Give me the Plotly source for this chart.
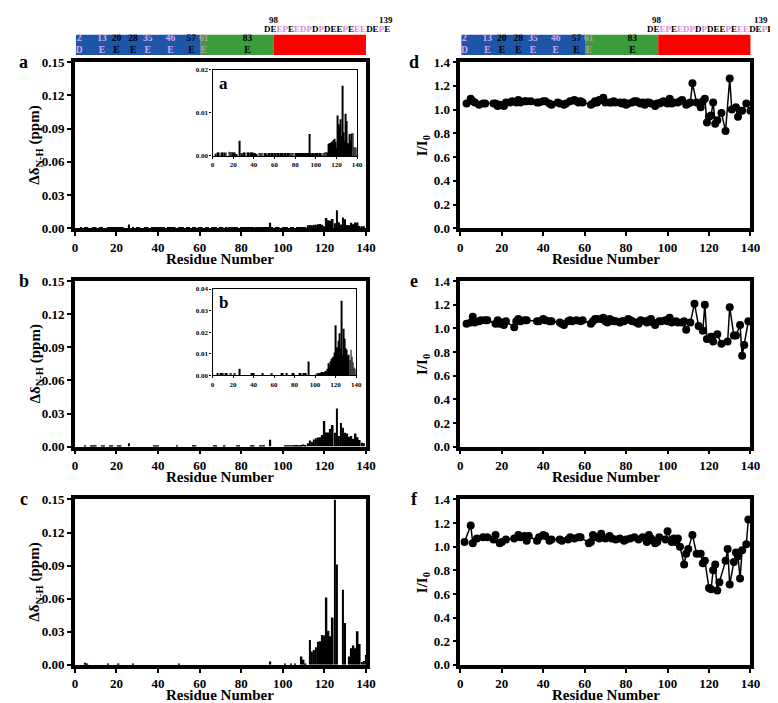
import plotly.graph_objects as go

W, H = 778, 703
FONT = "Liberation Serif"

# ---- data -------------------------------------------------------------
residues = list(range(1, 141))

# chemical shift perturbation, panel a (residues 1..140)
shift_a = [
    0, 0, 0.0005, 0, 0.0008, 0.0008, 0, 0, 0.0008, 0.0008,
    0, 0.0008, 0.0008, 0, 0, 0.001, 0.0009, 0.0009, 0.0008, 0.0008,
    0.0008, 0.0004, 0.0004, 0, 0, 0.0035, 0, 0.0006, 0, 0.0008,
    0.0008, 0, 0, 0.0008, 0.0008, 0, 0.0008, 0.0008, 0.0008, 0.0007,
    0.0007, 0.0005, 0.0004, 0, 0.0007, 0.0007, 0.0007, 0.0007, 0, 0.0007,
    0.0007, 0.0004, 0, 0.0007, 0.0007, 0, 0.0007, 0.0007, 0, 0.0007,
    0.0007, 0, 0.0007, 0.0007, 0, 0.0007, 0.0007, 0.0007, 0, 0.0007,
    0.0007, 0, 0.0007, 0.0007, 0.0007, 0.0007, 0.0007, 0.0007, 0, 0.0007,
    0.0007, 0.0007, 0.0007, 0.0007, 0.0007, 0.0007, 0.0007, 0.0007, 0.0007, 0.0007,
    0.0007, 0.0007, 0.0007, 0.0051, 0.0007, 0.0003, 0.0007, 0.0007, 0.0003, 0.0007,
    0.0007, 0.0007, 0, 0.0007, 0.0007, 0.0003, 0.0007, 0.0007, 0.0009, 0.0009,
    0.0008, 0.0028, 0.003, 0.0029, 0.0033, 0.0033, 0.0037, 0.004, 0.0033, 0.0018,
    0.0094, 0.0074, 0.0069, 0.0085, 0.0047, 0.0163, 0.0055, 0.0035, 0.0098, 0.0081,
    0.003, 0.0028, 0.0051, 0.0036, 0.0052, 0.0053, 0.0021, 0.002, 0.0019, 0,
]

shift_b = [
    0, 0, 0, 0, 0.001, 0, 0, 0.001, 0.001, 0.001,
    0, 0, 0.001, 0.001, 0, 0, 0.001, 0.001, 0, 0,
    0.001, 0.001, 0, 0, 0, 0.003, 0, 0, 0, 0,
    0, 0, 0, 0, 0, 0, 0, 0.001, 0.001, 0.001,
    0, 0, 0, 0, 0, 0, 0, 0, 0.001, 0,
    0, 0, 0, 0, 0, 0, 0.001, 0.001, 0, 0,
    0, 0, 0, 0, 0, 0, 0.001, 0.001, 0, 0,
    0, 0.001, 0, 0, 0, 0, 0, 0.001, 0.001, 0,
    0, 0, 0, 0, 0.001, 0.001, 0, 0, 0.001, 0.001,
    0.001, 0, 0, 0.0063, 0, 0, 0, 0, 0, 0,
    0.0007, 0.001, 0.001, 0.001, 0.001, 0.0015, 0.0015, 0.0012, 0.0015, 0.002,
    0.0015, 0.003, 0.0055, 0.0045, 0.0065, 0.0075, 0.0082, 0.0085, 0.0105, 0.0232,
    0.0128, 0.0128, 0.016, 0.0195, 0.0125, 0.0345, 0.0095, 0.0215, 0.017, 0.0125,
    0.0118, 0.009, 0.0095, 0.007, 0.0118, 0.0085, 0.006, 0.0035, 0.003, 0,
]

shift_c = [
    0, 0, 0, 0, 0.0018, 0.0012, 0, 0, 0, 0,
    0, 0, 0, 0, 0, 0.0005, 0, 0, 0, 0,
    0.0012, 0, 0, 0, 0, 0, 0, 0.0005, 0, 0,
    0, 0, 0, 0, 0, 0, 0, 0, 0, 0,
    0, 0, 0, 0, 0, 0, 0, 0, 0, 0.0005,
    0, 0, 0, 0, 0, 0, 0, 0, 0, 0,
    0, 0, 0, 0, 0, 0, 0, 0, 0, 0,
    0, 0, 0, 0, 0, 0, 0, 0, 0, 0,
    0, 0, 0, 0, 0, 0, 0, 0, 0, 0,
    0, 0, 0, 0.003, 0, 0, 0, 0, 0, 0,
    0.0012, 0, 0, 0.0008, 0, 0.0008, 0, 0, 0.0075, 0.0045,
    0.001, 0, 0.0225, 0.012, 0.0135, 0.016, 0.021, 0.0215, 0.027, 0.0265,
    0.061, 0.031, 0.026, 0.043, 0.15, 0.091, 0, 0, 0.068, 0.038,
    0, 0.0075, 0.015, 0.0175, 0.015, 0.0305, 0.019, 0.0025, 0.0035, 0.009,
]

# intensity ratios I/I0
res_d = [3, 5, 6, 7, 9, 11, 12, 16, 17, 18, 19, 21, 22, 24, 25, 27, 28, 29, 31, 32,
         34, 37, 38, 40, 41, 43, 44, 47, 48, 50, 51, 53, 55, 56, 57, 58, 59, 63, 64, 65,
         66, 67, 68, 69, 70, 72, 73, 74, 75, 77, 78, 79, 80, 81, 83, 84, 85, 86, 87, 88,
         89, 90, 91, 92, 94, 95, 96, 97, 98, 99, 100, 101, 102, 103, 105, 106, 107, 109, 110, 111,
         112, 114, 116, 117, 118, 119, 120, 121, 122, 123, 124, 126, 128, 130, 131, 133, 134, 135, 136, 138,
         140]
ratio_d = [1.05, 1.09, 1.07, 1.06, 1.04, 1.05, 1.05, 1.05, 1.05, 1.03, 1.04, 1.03, 1.06, 1.06, 1.07, 1.06, 1.08, 1.06, 1.07, 1.07,
           1.07, 1.06, 1.06, 1.07, 1.07, 1.05, 1.04, 1.06, 1.05, 1.04, 1.05, 1.07, 1.08, 1.07, 1.06, 1.07, 1.06, 1.04, 1.05, 1.07,
           1.06, 1.08, 1.08, 1.10, 1.06, 1.06, 1.06, 1.07, 1.06, 1.06, 1.05, 1.06, 1.04, 1.05, 1.06, 1.07, 1.07, 1.06, 1.05, 1.06,
           1.04, 1.06, 1.06, 1.05, 1.03, 1.05, 1.05, 1.06, 1.07, 1.06, 1.05, 1.09, 1.05, 1.06, 1.06, 1.07, 1.08, 1.04, 1.05, 1.06,
           1.22, 1.06, 1.02, 1.07, 1.09, 0.89, 0.94, 0.95, 1.06, 0.88, 0.91, 0.97, 0.82, 1.26, 1.00, 1.02, 0.94, 0.99, 0.99, 1.05,
           0.99]

res_e = [3, 5, 6, 7, 9, 10, 12, 13, 17, 18, 19, 20, 21, 22, 26, 27, 28, 29, 31, 32,
         37, 38, 40, 41, 43, 44, 48, 49, 50, 52, 53, 54, 56, 58, 59, 63, 64, 65, 66, 68,
         69, 70, 71, 72, 73, 74, 75, 77, 78, 79, 81, 82, 83, 85, 86, 87, 89, 90, 91, 92,
         93, 94, 96, 97, 99, 100, 101, 102, 104, 105, 107, 108, 109, 111, 113, 115, 117, 118, 119, 121,
         122, 124, 126, 129, 130, 132, 133, 135, 136, 137, 139]
ratio_e = [1.04, 1.05, 1.10, 1.05, 1.06, 1.07, 1.07, 1.07, 1.04, 1.07, 1.04, 1.05, 1.03, 1.06, 1.01, 1.06, 1.08, 1.06, 1.07, 1.07,
           1.06, 1.06, 1.08, 1.07, 1.06, 1.06, 1.05, 1.04, 1.03, 1.06, 1.07, 1.06, 1.07, 1.06, 1.07, 1.04, 1.06, 1.08, 1.08, 1.08,
           1.09, 1.06, 1.05, 1.08, 1.07, 1.06, 1.06, 1.05, 1.06, 1.06, 1.08, 1.07, 1.06, 1.05, 1.04, 1.07, 1.06, 1.05, 1.07, 1.08,
           1.05, 1.03, 1.06, 1.06, 1.07, 1.06, 1.09, 1.05, 1.06, 1.05, 1.05, 1.06, 0.99, 1.05, 1.21, 1.02, 0.98, 1.20, 0.91, 0.93,
           0.89, 0.95, 0.87, 0.89, 1.18, 0.94, 0.94, 1.03, 0.77, 0.86, 1.06]

res_f = [2, 5, 6, 8, 11, 13, 16, 17, 19, 20, 22, 26, 28, 29, 31, 32, 33, 37, 38, 40,
         41, 43, 44, 48, 49, 52, 53, 55, 57, 58, 62, 63, 64, 66, 67, 68, 70, 72, 73, 75,
         77, 79, 80, 82, 84, 86, 88, 90, 91, 92, 93, 94, 95, 96, 99, 100, 102, 103, 104, 105,
         106, 108, 109, 110, 112, 114, 116, 117, 118, 120, 121, 122, 123, 124, 125, 128, 129, 130, 132, 133,
         134, 135, 136, 138, 139]
ratio_f = [1.04, 1.18, 1.03, 1.07, 1.08, 1.08, 1.06, 1.10, 1.03, 1.04, 1.06, 1.07, 1.10, 1.08, 1.09, 1.05, 1.09, 1.05, 1.08, 1.10,
           1.09, 1.05, 1.06, 1.06, 1.05, 1.06, 1.08, 1.07, 1.08, 1.08, 1.03, 1.04, 1.10, 1.08, 1.07, 1.11, 1.07, 1.09, 1.07, 1.06,
           1.07, 1.05, 1.06, 1.07, 1.08, 1.06, 1.08, 1.04, 1.10, 1.07, 1.05, 1.03, 1.04, 1.08, 1.06, 1.13, 1.04, 1.07, 1.04, 1.07,
           1.00, 0.85, 0.94, 0.98, 1.10, 0.94, 0.94, 0.86, 0.88, 0.65, 0.64, 0.80, 0.85, 0.63, 0.70, 0.88, 0.98, 0.68, 0.87, 0.95,
           0.92, 0.73, 0.97, 1.02, 1.23]

# domain map (N-terminal / NAC / C-terminal)
domain_start = [0.5, 60.5, 95.5]
domain_end = [60.5, 95.5, 140.5]
domain_colors = ["#1d56a8", "#3a9c3a", "#ff0000"]

acid_pos = [2, 13, 20, 28, 35, 46, 56, 62, 83]
acid_res = ["D", "E", "E", "E", "E", "E", "E", "E", "E"]
acid_labels = ["2", "13", "20", "28", "35", "46", "57", "61", "83"]
acid_colors = ["#d9a6e6", "#d9a6e6", "black", "black", "#d9a6e6", "#d9a6e6", "black", "#b99aa6", "black"]

ctail_seq = "DEEPEEDPDPDEEPEEEDEPE"
ctail_pink = [2, 3, 5, 6, 7, 9, 13, 15, 16, 19]

# ---- helpers ----------------------------------------------------------
def fx(px):
    return px / W

def fy(py):
    return 1 - py / H

def frame_axis(**kw):
    ax = dict(showline=True, linewidth=3.5, linecolor="black", mirror=True,
              showgrid=False, zeroline=False, ticks="outside", ticklen=4,
              tickwidth=2, tickcolor="black",
              tickfont=dict(family=FONT, size=13, color="black", weight="bold"))
    ax.update(kw)
    return ax

def note(x, y, text, font, **kw):
    a = dict(x=x, y=y, xref="paper", yref="paper", xanchor="center",
             yanchor="middle", showarrow=False, text=text, font=font)
    a.update(kw)
    return a

cols = [(65, 361), (457, 752)]
rows = [(48, 218), (272, 441), (495, 664)]

fig = go.Figure()
layout = dict(width=W, height=H, margin=dict(l=0, r=0, t=0, b=0),
              plot_bgcolor="white", paper_bgcolor="white", showlegend=False,
              barmode="overlay", annotations=[])

bar_sets = [shift_a, shift_b, shift_c]
line_sets = [(res_d, ratio_d), (res_e, ratio_e), (res_f, ratio_f)]

# main panels a-c (bars) and d-f (lines)
for i in range(3):
    n = i + 1
    xa, ya = ("x" if n == 1 else f"x{n}"), ("y" if n == 1 else f"y{n}")
    fig.add_trace(go.Bar(x=residues, y=bar_sets[i], width=0.8, marker_color="black",
                         marker_line_width=0, xaxis=xa, yaxis=ya))
    layout["xaxis" + ("" if n == 1 else str(n))] = frame_axis(
        domain=[fx(cols[0][0]), fx(cols[0][1])], range=[0, 140], dtick=20, anchor=ya)
    layout["yaxis" + ("" if n == 1 else str(n))] = frame_axis(
        domain=[fy(rows[i][1]), fy(rows[i][0])], range=[0, 0.15], dtick=0.03,
        tickformat=".2f", anchor=xa)

    m = i + 4
    res, rat = line_sets[i]
    fig.add_trace(go.Scatter(x=res, y=rat, mode="lines+markers",
                             line=dict(color="black", width=1.5),
                             marker=dict(color="black", size=8),
                             xaxis=f"x{m}", yaxis=f"y{m}"))
    layout[f"xaxis{m}"] = frame_axis(domain=[fx(cols[1][0]), fx(cols[1][1])],
                                     range=[0, 140], dtick=20, anchor=f"y{m}")
    layout[f"yaxis{m}"] = frame_axis(domain=[fy(rows[i][1]), fy(rows[i][0])],
                                     range=[0, 1.4], dtick=0.2, tickformat=".1f",
                                     anchor=f"x{m}")

# insets for a and b
insets = [(7, shift_a, (205, 352, 56, 144), 0.02, "a"),
          (8, shift_b, (205, 351, 280, 368), 0.04, "b")]
for k, data, (x0, x1, y0, y1), top, letter in insets:
    fig.add_trace(go.Bar(x=residues, y=data, width=0.8, marker_color="black",
                         marker_line_width=0, xaxis=f"x{k}", yaxis=f"y{k}"))
    small = dict(family=FONT, size=7, color="black", weight="bold")
    layout[f"xaxis{k}"] = frame_axis(domain=[fx(x0), fx(x1)], range=[0, 140], dtick=20,
                                     linewidth=1.2, ticklen=2, tickwidth=1,
                                     tickfont=small, anchor=f"y{k}")
    layout[f"yaxis{k}"] = frame_axis(domain=[fy(y1), fy(y0)], range=[0, top], dtick=0.01,
                                     tickformat=".2f", linewidth=1.2, ticklen=2,
                                     tickwidth=1, tickfont=small, anchor=f"x{k}")
    layout["annotations"].append(note(
        fx(x0 + 4), fy(y0 + 2), letter,
        dict(family=FONT, size=17, color="black", weight="bold"),
        xanchor="left", yanchor="top"))

# domain maps above the top row
seq_html = "".join(
    f'<span style="color:#d98ad9">{ch}</span>' if j in ctail_pink else ch
    for j, ch in enumerate(ctail_seq))
seqfont = dict(family=FONT, size=9, color="black", weight="bold")
seq_px = [(255, 267, 381), (645, 657, 763)]   # sequence left edge, "98", "139"
for k, (c0, c1), (s0, p98, p139) in zip([9, 10], cols, seq_px):
    fig.add_trace(go.Bar(y=[0.5] * 3, x=[e - s for s, e in zip(domain_start, domain_end)],
                         base=domain_start, orientation="h", width=1,
                         marker_color=domain_colors, marker_line_width=0,
                         xaxis=f"x{k}", yaxis=f"y{k}"))
    fig.add_trace(go.Scatter(x=acid_pos, y=[0.5] * len(acid_pos), mode="text",
                             text=[f"{p}<br>{r}" for p, r in zip(acid_labels, acid_res)],
                             textfont=dict(family=FONT, size=9.5, color=acid_colors,
                                           weight="bold"),
                             xaxis=f"x{k}", yaxis=f"y{k}"))
    layout[f"xaxis{k}"] = dict(domain=[fx(c0), fx(c1)], range=[0, 140], visible=False,
                               anchor=f"y{k}")
    layout[f"yaxis{k}"] = dict(domain=[fy(41), fy(20)], range=[0, 1], visible=False,
                               anchor=f"x{k}")
    layout["annotations"] += [
        note(fx(s0), fy(14), seq_html, seqfont, xanchor="left"),
        note(fx(p98), fy(5), "98", seqfont),
        note(fx(p139), fy(5), "139", seqfont),
    ]

# panel letters, axis titles
big = dict(family=FONT, size=18, color="black", weight="bold")
title_font = dict(family=FONT, size=15, color="black", weight="bold")
for i, (la, lb) in enumerate(zip("abc", "def")):
    top, bot = rows[i]
    mid = (top + bot) / 2
    layout["annotations"] += [
        note(fx(13), fy(top), la, big),
        note(fx(410), fy(top), lb, big),
        note(fx(25), fy(mid), "Δδ<sub>N-H</sub> (ppm)", title_font, textangle=-90),
        note(fx(419), fy(mid), "I/I<sub>0</sub>", title_font, textangle=-90),
        note(fx(213), fy(bot + 31), "Residue Number", title_font),
        note(fx(605), fy(bot + 31), "Residue Number", title_font),
    ]

fig.update_layout(**layout)
fig.write_html("out.html")
